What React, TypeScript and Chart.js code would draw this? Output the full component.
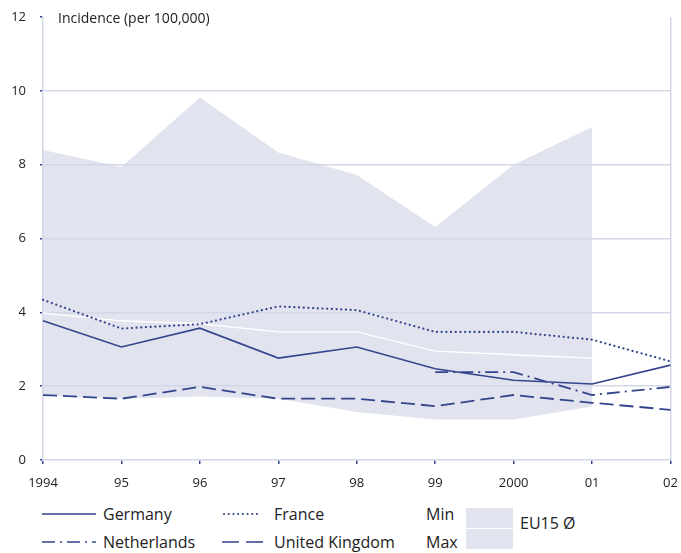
import React, { useEffect, useRef } from "react";
import { Chart, registerables } from "chart.js";

Chart.register(...registerables);

const years = ["1994", "95", "96", "97", "98", "99", "2000", "01", "02"];
const germany = [3.77, 3.06, 3.57, 2.76, 3.06, 2.47, 2.16, 2.06, 2.57];
const france = [4.34, 3.56, 3.68, 4.16, 4.06, 3.47, 3.47, 3.26, 2.67];
const netherlands = [null, null, null, null, null, 2.38, 2.38, 1.76, 1.98];
const unitedKingdom = [1.76, 1.66, 1.98, 1.66, 1.66, 1.46, 1.76, 1.55, 1.36];
const eu15Avg = [3.98, 3.77, 3.69, 3.47, 3.47, 2.95, 2.85, 2.76, null];
const eu15Max = [8.4, 7.94, 9.82, 8.33, 7.72, 6.31, 8.0, 9.02, null];
const eu15Min = [1.75, 1.66, 1.72, 1.66, 1.3, 1.1, 1.1, 1.45, null];
const yTicks = [0, 2, 4, 6, 8, 10, 12];

const NAVY = "#33458c";
const BAND = "#e1e3ef";
const GRID = "#d4d7e7";
const FONT = "'Open Sans', 'DejaVu Sans', sans-serif";

function Sample({ dash, cap, width }: { dash?: string; cap?: "round" | "butt"; width: number }) {
  return (
    <svg width={width} height={6} style={{ display: "block" }}>
      <line
        x1={cap === "round" ? 2 : 0}
        y1={3}
        x2={cap === "round" ? width - 2 : width}
        y2={3}
        stroke={NAVY}
        strokeWidth={cap === "round" ? 2 : 1.6}
        strokeDasharray={dash}
        strokeLinecap={cap || "butt"}
      />
    </svg>
  );
}

export default function App() {
  const ref = useRef<HTMLCanvasElement | null>(null);

  useEffect(() => {
    document.body.style.margin = "0";
    const canvas = ref.current;
    if (!canvas) return;
    const chart = new Chart(canvas, {
      type: "line",
      data: {
        labels: years,
        datasets: [
          {
            label: "Germany",
            data: germany,
            borderColor: NAVY,
            borderWidth: 1.6,
            pointRadius: 0,
            fill: false,
            tension: 0,
          },
          {
            label: "France",
            data: france,
            borderColor: NAVY,
            borderWidth: 2.2,
            borderDash: [0.1, 4.6],
            borderCapStyle: "round",
            pointRadius: 0,
            fill: false,
          },
          {
            label: "Netherlands",
            data: netherlands as any,
            borderColor: NAVY,
            borderWidth: 1.8,
            borderDash: [13, 5, 2, 5],
            pointRadius: 0,
            fill: false,
            spanGaps: false,
          },
          {
            label: "United Kingdom",
            data: unitedKingdom,
            borderColor: NAVY,
            borderWidth: 1.8,
            borderDash: [14, 6],
            pointRadius: 0,
            fill: false,
          },
          {
            label: "EU15 Ø",
            data: eu15Avg as any,
            borderColor: "#ffffff",
            borderWidth: 1.4,
            pointRadius: 0,
            fill: false,
            order: 5,
          },
          {
            label: "Max",
            data: eu15Max as any,
            borderColor: "rgba(0,0,0,0)",
            borderWidth: 0,
            backgroundColor: BAND,
            pointRadius: 0,
            fill: "+1",
            order: 10,
          },
          {
            label: "Min",
            data: eu15Min as any,
            borderColor: "rgba(0,0,0,0)",
            borderWidth: 0,
            pointRadius: 0,
            fill: false,
            order: 10,
          },
        ],
      },
      options: {
        animation: false,
        responsive: false,
        maintainAspectRatio: false,
        layout: { padding: { top: 17, right: 10.5, bottom: 0, left: 0 } },
        plugins: {
          legend: { display: false },
          tooltip: { enabled: false },
          filler: { drawTime: "beforeDraw" } as any,
        },
        scales: {
          x: {
            type: "category",
            offset: false,
            border: { display: true, color: GRID, width: 1.5 },
            grid: {
              color: (ctx: any) => (ctx.index === years.length - 1 ? GRID : "rgba(0,0,0,0)"),
              lineWidth: 1.5,
              tickColor: NAVY,
              tickLength: 4,
              drawTicks: true,
            },
            ticks: {
              color: "#222",
              font: { family: FONT, size: 13 },
              padding: 11,
              maxRotation: 0,
              autoSkip: false,
            },
            afterFit: (scale: any) => {
              scale.height = 35;
              scale.paddingLeft = 0;
              scale.paddingRight = 0;
            },
          },
          y: {
            min: 0,
            max: 12,
            afterBuildTicks: (scale: any) => {
              scale.ticks = yTicks.map((v) => ({ value: v }));
            },
            border: { display: true, color: GRID, width: 1.5 },
            grid: {
              color: (ctx: any) =>
                ctx.tick && (ctx.tick.value === 12 || ctx.tick.value === 0) ? "rgba(0,0,0,0)" : GRID,
              lineWidth: 1.5,
              tickColor: NAVY,
              tickLength: 3,
            },
            ticks: {
              color: "#222",
              font: { family: FONT, size: 13 },
              padding: 14,
            },
            afterFit: (scale: any) => {
              scale.width = 43;
              scale.paddingTop = 0;
              scale.paddingBottom = 0;
            },
          },
        },
      },
    });
    return () => chart.destroy();
  }, []);

  const textStyle: React.CSSProperties = {
    position: "absolute",
    fontFamily: FONT,
    fontSize: 16,
    color: "#222",
    lineHeight: "20px",
    whiteSpace: "nowrap",
  };

  return (
    <div style={{ position: "relative", width: 681, height: 553, background: "#fff" }}>
      <canvas ref={ref} width={681} height={495} style={{ display: "block" }} />
      <div
        style={{
          position: "absolute",
          left: 58,
          top: 8,
          fontFamily: FONT,
          fontSize: 14,
          color: "#222",
          lineHeight: "20px",
          whiteSpace: "nowrap",
        }}
      >
        Incidence (per 100,000)
      </div>
      {/* legend row 1 */}
      <div style={{ position: "absolute", left: 42, top: 511 }}>
        <Sample width={54} />
      </div>
      <div style={{ ...textStyle, left: 103, top: 504 }}>Germany</div>
      <div style={{ position: "absolute", left: 222, top: 511 }}>
        <Sample width={41} dash="0.1 4.6" cap="round" />
      </div>
      <div style={{ ...textStyle, left: 274, top: 504 }}>France</div>
      <div style={{ ...textStyle, left: 426, top: 504 }}>Min</div>
      {/* legend row 2 */}
      <div style={{ position: "absolute", left: 42, top: 539 }}>
        <Sample width={54} dash="13 5 2 5" />
      </div>
      <div style={{ ...textStyle, left: 103, top: 532 }}>Netherlands</div>
      <div style={{ position: "absolute", left: 222, top: 539 }}>
        <Sample width={42} dash="17 7" />
      </div>
      <div style={{ ...textStyle, left: 274, top: 532 }}>United Kingdom</div>
      <div style={{ ...textStyle, left: 426, top: 532 }}>Max</div>
      {/* band box */}
      <div
        style={{
          position: "absolute",
          left: 466,
          top: 508,
          width: 47,
          height: 41,
          background: BAND,
        }}
      >
        <div style={{ position: "absolute", left: 0, right: 0, top: 20, height: 1.4, background: "#fff" }} />
      </div>
      <div style={{ ...textStyle, left: 520, top: 513 }}>EU15 Ø</div>
    </div>
  );
}
